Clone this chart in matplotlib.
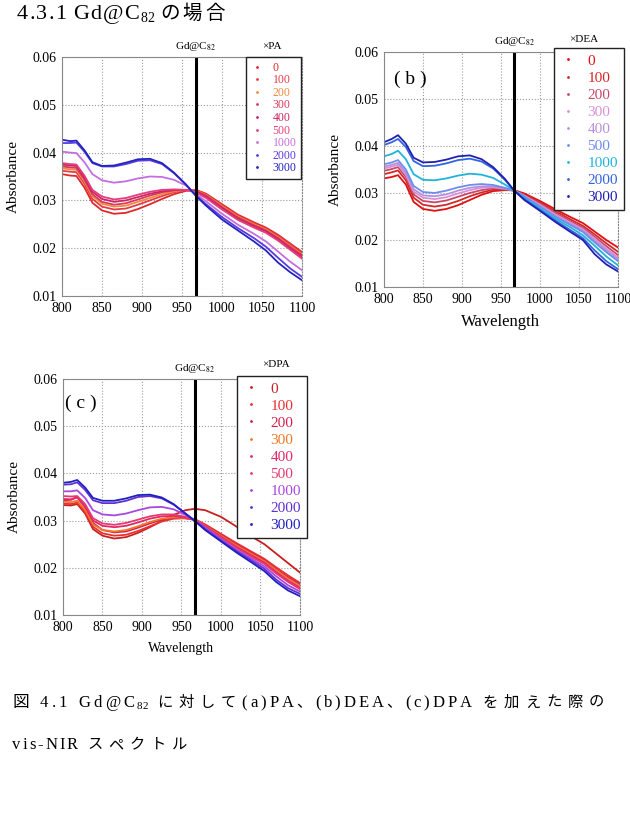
import matplotlib
matplotlib.use('Agg')
import matplotlib.pyplot as plt
from matplotlib.lines import Line2D
from matplotlib.transforms import IdentityTransform

# 波長 (nm)
wl = [800, 810, 818, 828, 838, 850, 865, 880, 895, 910, 925, 940, 955, 967,
      980, 1000, 1020, 1040, 1055, 1070, 1085, 1100]
conc = ['0', '100', '200', '300', '400', '500', '1000', '2000', '3000']

# (a) PA
pa_0 = [0.0355, 0.0352, 0.0351, 0.0327, 0.0295, 0.0279, 0.0272, 0.0274, 0.0282, 0.0292, 0.0303,
        0.0313, 0.0320, 0.0322, 0.0314, 0.0292, 0.0270, 0.0254, 0.0243, 0.0228, 0.0210, 0.0192]
pa_100 = [0.0362, 0.0360, 0.0359, 0.0335, 0.0303, 0.0287, 0.0281, 0.0283, 0.0291, 0.0300, 0.0309,
          0.0317, 0.0321, 0.0322, 0.0313, 0.0290, 0.0268, 0.0252, 0.0241, 0.0226, 0.0208, 0.0189]
pa_200 = [0.0367, 0.0365, 0.0364, 0.0340, 0.0309, 0.0293, 0.0287, 0.0289, 0.0297, 0.0305, 0.0313,
          0.0319, 0.0322, 0.0321, 0.0311, 0.0288, 0.0266, 0.0250, 0.0239, 0.0223, 0.0205, 0.0187]
pa_300 = [0.0371, 0.0369, 0.0368, 0.0344, 0.0313, 0.0297, 0.0291, 0.0294, 0.0302, 0.0310, 0.0317,
          0.0321, 0.0322, 0.0320, 0.0310, 0.0286, 0.0264, 0.0248, 0.0237, 0.0221, 0.0203, 0.0185]
pa_400 = [0.0375, 0.0373, 0.0372, 0.0348, 0.0318, 0.0303, 0.0297, 0.0300, 0.0307, 0.0314, 0.0319,
          0.0322, 0.0322, 0.0319, 0.0308, 0.0284, 0.0262, 0.0246, 0.0235, 0.0219, 0.0200, 0.0182]
pa_500 = [0.0378, 0.0376, 0.0375, 0.0352, 0.0322, 0.0308, 0.0302, 0.0305, 0.0312, 0.0318, 0.0322,
          0.0323, 0.0322, 0.0317, 0.0305, 0.0281, 0.0259, 0.0243, 0.0232, 0.0216, 0.0197, 0.0178]
pa_1000 = [0.0402, 0.0400, 0.0399, 0.0380, 0.0355, 0.0342, 0.0337, 0.0340, 0.0346, 0.0350, 0.0349,
           0.0343, 0.0331, 0.0314, 0.0298, 0.0272, 0.0249, 0.0230, 0.0214, 0.0193, 0.0172, 0.0154]
pa_2000 = [0.0420, 0.0420, 0.0421, 0.0402, 0.0378, 0.0371, 0.0371, 0.0376, 0.0383, 0.0384, 0.0376,
           0.0357, 0.0333, 0.0311, 0.0292, 0.0265, 0.0242, 0.0221, 0.0203, 0.0180, 0.0158, 0.0140]
pa_3000 = [0.0427, 0.0424, 0.0425, 0.0405, 0.0380, 0.0372, 0.0373, 0.0379, 0.0386, 0.0387, 0.0378,
           0.0358, 0.0333, 0.0310, 0.0289, 0.0260, 0.0237, 0.0214, 0.0195, 0.0170, 0.0150, 0.0133]

# (b) DEA
dea_0 = [0.0331, 0.0334, 0.0338, 0.0318, 0.0281, 0.0266, 0.0262, 0.0266, 0.0274, 0.0285, 0.0296,
         0.0304, 0.0306, 0.0306, 0.0299, 0.0283, 0.0265, 0.0248, 0.0236, 0.0218, 0.0200, 0.0184]
dea_100 = [0.0340, 0.0344, 0.0348, 0.0327, 0.0290, 0.0275, 0.0271, 0.0275, 0.0283, 0.0293, 0.0301,
           0.0307, 0.0307, 0.0305, 0.0297, 0.0280, 0.0261, 0.0243, 0.0230, 0.0212, 0.0193, 0.0175]
dea_200 = [0.0347, 0.0351, 0.0355, 0.0334, 0.0297, 0.0283, 0.0280, 0.0284, 0.0292, 0.0300, 0.0306,
           0.0310, 0.0308, 0.0305, 0.0295, 0.0277, 0.0257, 0.0239, 0.0226, 0.0207, 0.0187, 0.0168]
dea_300 = [0.0352, 0.0356, 0.0360, 0.0339, 0.0303, 0.0290, 0.0287, 0.0291, 0.0299, 0.0306, 0.0311,
           0.0312, 0.0309, 0.0305, 0.0294, 0.0275, 0.0254, 0.0236, 0.0223, 0.0203, 0.0182, 0.0163]
dea_400 = [0.0356, 0.0360, 0.0364, 0.0344, 0.0308, 0.0295, 0.0293, 0.0297, 0.0305, 0.0311, 0.0314,
           0.0314, 0.0310, 0.0305, 0.0293, 0.0273, 0.0251, 0.0233, 0.0220, 0.0199, 0.0178, 0.0159]
dea_500 = [0.0361, 0.0365, 0.0370, 0.0350, 0.0315, 0.0302, 0.0300, 0.0305, 0.0312, 0.0317, 0.0319,
           0.0317, 0.0311, 0.0305, 0.0292, 0.0271, 0.0249, 0.0231, 0.0217, 0.0195, 0.0174, 0.0155]
dea_1000 = [0.0378, 0.0383, 0.0390, 0.0372, 0.0340, 0.0328, 0.0327, 0.0331, 0.0337, 0.0341, 0.0339,
            0.0332, 0.0318, 0.0305, 0.0289, 0.0267, 0.0245, 0.0226, 0.0210, 0.0188, 0.0165, 0.0146]
dea_2000 = [0.0402, 0.0408, 0.0415, 0.0398, 0.0368, 0.0357, 0.0358, 0.0363, 0.0370, 0.0373, 0.0367,
            0.0352, 0.0328, 0.0305, 0.0287, 0.0264, 0.0241, 0.0220, 0.0204, 0.0178, 0.0155, 0.0138]
dea_3000 = [0.0408, 0.0415, 0.0423, 0.0405, 0.0375, 0.0365, 0.0366, 0.0371, 0.0378, 0.0380, 0.0372,
            0.0355, 0.0330, 0.0305, 0.0285, 0.0262, 0.0238, 0.0216, 0.0200, 0.0170, 0.0148, 0.0133]

# (c) DPA
dpa_0 = [0.0333, 0.0332, 0.0335, 0.0315, 0.0282, 0.0268, 0.0262, 0.0265, 0.0274, 0.0286, 0.0299,
         0.0312, 0.0322, 0.0325, 0.0322, 0.0308, 0.0287, 0.0265, 0.0250, 0.0230, 0.0210, 0.0190]
dpa_100 = [0.0336, 0.0335, 0.0338, 0.0318, 0.0287, 0.0273, 0.0268, 0.0270, 0.0278, 0.0288, 0.0298,
           0.0304, 0.0305, 0.0303, 0.0292, 0.0272, 0.0252, 0.0233, 0.0219, 0.0201, 0.0184, 0.0168]
dpa_200 = [0.0343, 0.0344, 0.0350, 0.0328, 0.0295, 0.0280, 0.0275, 0.0277, 0.0285, 0.0294, 0.0302,
           0.0306, 0.0305, 0.0302, 0.0290, 0.0270, 0.0249, 0.0230, 0.0216, 0.0197, 0.0180, 0.0165]
dpa_300 = [0.0340, 0.0339, 0.0342, 0.0323, 0.0292, 0.0280, 0.0277, 0.0280, 0.0288, 0.0297, 0.0304,
           0.0307, 0.0305, 0.0302, 0.0289, 0.0268, 0.0247, 0.0228, 0.0214, 0.0195, 0.0177, 0.0162]
dpa_400 = [0.0346, 0.0345, 0.0349, 0.0330, 0.0300, 0.0289, 0.0286, 0.0289, 0.0296, 0.0304, 0.0309,
           0.0310, 0.0306, 0.0301, 0.0288, 0.0266, 0.0244, 0.0225, 0.0211, 0.0191, 0.0173, 0.0158]
dpa_500 = [0.0352, 0.0351, 0.0352, 0.0335, 0.0305, 0.0294, 0.0291, 0.0295, 0.0302, 0.0309, 0.0313,
           0.0313, 0.0308, 0.0301, 0.0287, 0.0264, 0.0242, 0.0222, 0.0208, 0.0188, 0.0170, 0.0155]
dpa_1000 = [0.0362, 0.0362, 0.0364, 0.0348, 0.0322, 0.0313, 0.0311, 0.0315, 0.0322, 0.0328, 0.0329,
            0.0324, 0.0312, 0.0301, 0.0285, 0.0261, 0.0238, 0.0218, 0.0203, 0.0182, 0.0163, 0.0150]
dpa_2000 = [0.0376, 0.0377, 0.0381, 0.0365, 0.0343, 0.0337, 0.0337, 0.0342, 0.0350, 0.0352, 0.0347,
            0.0334, 0.0315, 0.0300, 0.0282, 0.0258, 0.0235, 0.0214, 0.0198, 0.0175, 0.0157, 0.0145]
dpa_3000 = [0.0380, 0.0382, 0.0386, 0.0370, 0.0348, 0.0342, 0.0342, 0.0347, 0.0354, 0.0355, 0.0349,
            0.0335, 0.0315, 0.0299, 0.0280, 0.0256, 0.0232, 0.0210, 0.0193, 0.0170, 0.0152, 0.0140]

col_a = ['#E02828', '#E33A48', '#F08A3C', '#D8385A', '#CC2266', '#E43C7C', '#C46EE0', '#5A3AE0', '#2424C0']
col_b = ['#E01010', '#D42828', '#C84868', '#D890D8', '#B890D8', '#6C8CF0', '#20B4D8', '#3264E0', '#2020B0']
col_c = ['#C82020', '#E83030', '#D82050', '#F07828', '#E02868', '#E83870', '#A848E0', '#6030D0', '#2020C0']

SERIF = ['Liberation Serif', 'Noto Sans CJK JP']
JP = ['Noto Sans CJK JP', 'Liberation Serif']
plt.rcParams['font.family'] = SERIF
plt.rcParams['mathtext.fontset'] = 'stix'

fig = plt.figure(figsize=(6.3, 8.15), dpi=100)
r = fig.canvas.get_renderer()


def write(x, y, pieces):
    # 文字ごとに並べる (字間あり), 座標はピクセル (下から)
    for s, size, dy, fam, track in pieces:
        for ch in s:
            if ch == ' ':
                x += size * 0.35
                continue
            t = fig.text(x, y + dy, ch, fontsize=size, family=fam,
                         transform=IdentityTransform(), va='baseline')
            x += t.get_window_extent(r).width + track
    return x


def panel(rect, data, colors, leg_fs, leg_sp, leg_anchor, xlab_fs=None):
    ax = fig.add_axes(rect)
    for y, c in zip(data, colors):
        ax.plot(wl, y, color=c, lw=1.3)
    ax.axvline(967, color='black', lw=2.2)
    ax.set_xlim(800, 1100)
    ax.set_ylim(0.01, 0.06)
    ax.set_xticks([800, 850, 900, 950, 1000, 1050, 1100])
    ax.set_yticks([0.01, 0.02, 0.03, 0.04, 0.05, 0.06])
    ax.set_yticklabels(['0.01', '0.02', '0.03', '0.04', '0.05', '0.06'])
    ax.grid(True, color='#999999', ls=':', lw=0.8)
    for s in ax.spines.values():
        s.set_color('#888888')
        s.set_linewidth(0.8)
    ax.spines['right'].set_linestyle(':')
    ax.tick_params(length=0, labelsize=10, pad=4)
    ax.set_ylabel('Absorbance', fontsize=11, labelpad=9)
    if xlab_fs:
        ax.set_xlabel('Wavelength', fontsize=xlab_fs, labelpad=6)
    ax.text(967, 1.045, 'Gd@C$_{82}$', transform=ax.get_xaxis_transform(),
            ha='center', va='center', fontsize=8)
    handles = [Line2D([0], [0], marker='.', ls='none', color=c, markersize=2) for c in colors]
    leg = ax.legend(handles, conc, loc='upper right', bbox_to_anchor=leg_anchor,
                    borderaxespad=0, fontsize=leg_fs, labelcolor=colors,
                    handlelength=1.0, handletextpad=0.8, labelspacing=leg_sp,
                    fancybox=False, framealpha=1, borderpad=0.4)
    leg.get_frame().set_edgecolor('#222222')
    leg.get_frame().set_linewidth(1.0)
    return ax


ax_a = panel([0.0984, 0.6368, 0.381, 0.2933],
             [pa_0, pa_100, pa_200, pa_300, pa_400, pa_500, pa_1000, pa_2000, pa_3000],
             col_a, 8.5, 0.05, (0.996, 1.0))
ax_a.text(0.875, 1.045, '×PA', transform=ax_a.transAxes, ha='center', va='center', fontsize=8)

ax_b = panel([0.6095, 0.6479, 0.3714, 0.2883],
             [dea_0, dea_100, dea_200, dea_300, dea_400, dea_500, dea_1000, dea_2000, dea_3000],
             col_b, 11, 0.22, (1.026, 1.017), xlab_fs=12)
ax_b.text(0.855, 1.055, '×DEA', transform=ax_b.transAxes, ha='center', va='center', fontsize=8)
ax_b.text(0.043, 0.885, '( b )', transform=ax_b.transAxes, ha='left', va='center', fontsize=14)

ax_c = panel([0.1, 0.2454, 0.376, 0.2896],
             [dpa_0, dpa_100, dpa_200, dpa_300, dpa_400, dpa_500, dpa_1000, dpa_2000, dpa_3000],
             col_c, 11, 0.22, (1.03, 1.013), xlab_fs=10)
ax_c.text(0.9, 1.06, '×DPA', transform=ax_c.transAxes, ha='center', va='center', fontsize=8)
ax_c.text(0.01, 0.898, '( c )', transform=ax_c.transAxes, ha='left', va='center', fontsize=14)

# 見出し
write(17, 796, [('4.3.1 Gd@C', 16, 0, SERIF, 1.2), ('82', 10, -3, SERIF, 0.5),
                (' の場合', 14, 0, JP, 3)])

# キャプション
write(12, 108, [('図  4.1  Gd@C', 12, 0, JP[::-1], 3), ('82', 8, -2, SERIF, 0.5),
                ('  に対して', 11, 0, JP, 6), ('(a)PA', 12, 0, SERIF, 3), ('、', 11, 0, JP, 3),
                ('(b)DEA', 12, 0, SERIF, 3), ('、', 11, 0, JP, 3),
                ('(c)DPA', 12, 0, SERIF, 3), ('  を加えた際の', 11, 0, JP, 6)])
write(12, 66, [('vis-NIR', 12, 0, SERIF, 2), ('  スペクトル', 11, 0, JP, 6)])

fig.savefig('out.png', dpi=100)
